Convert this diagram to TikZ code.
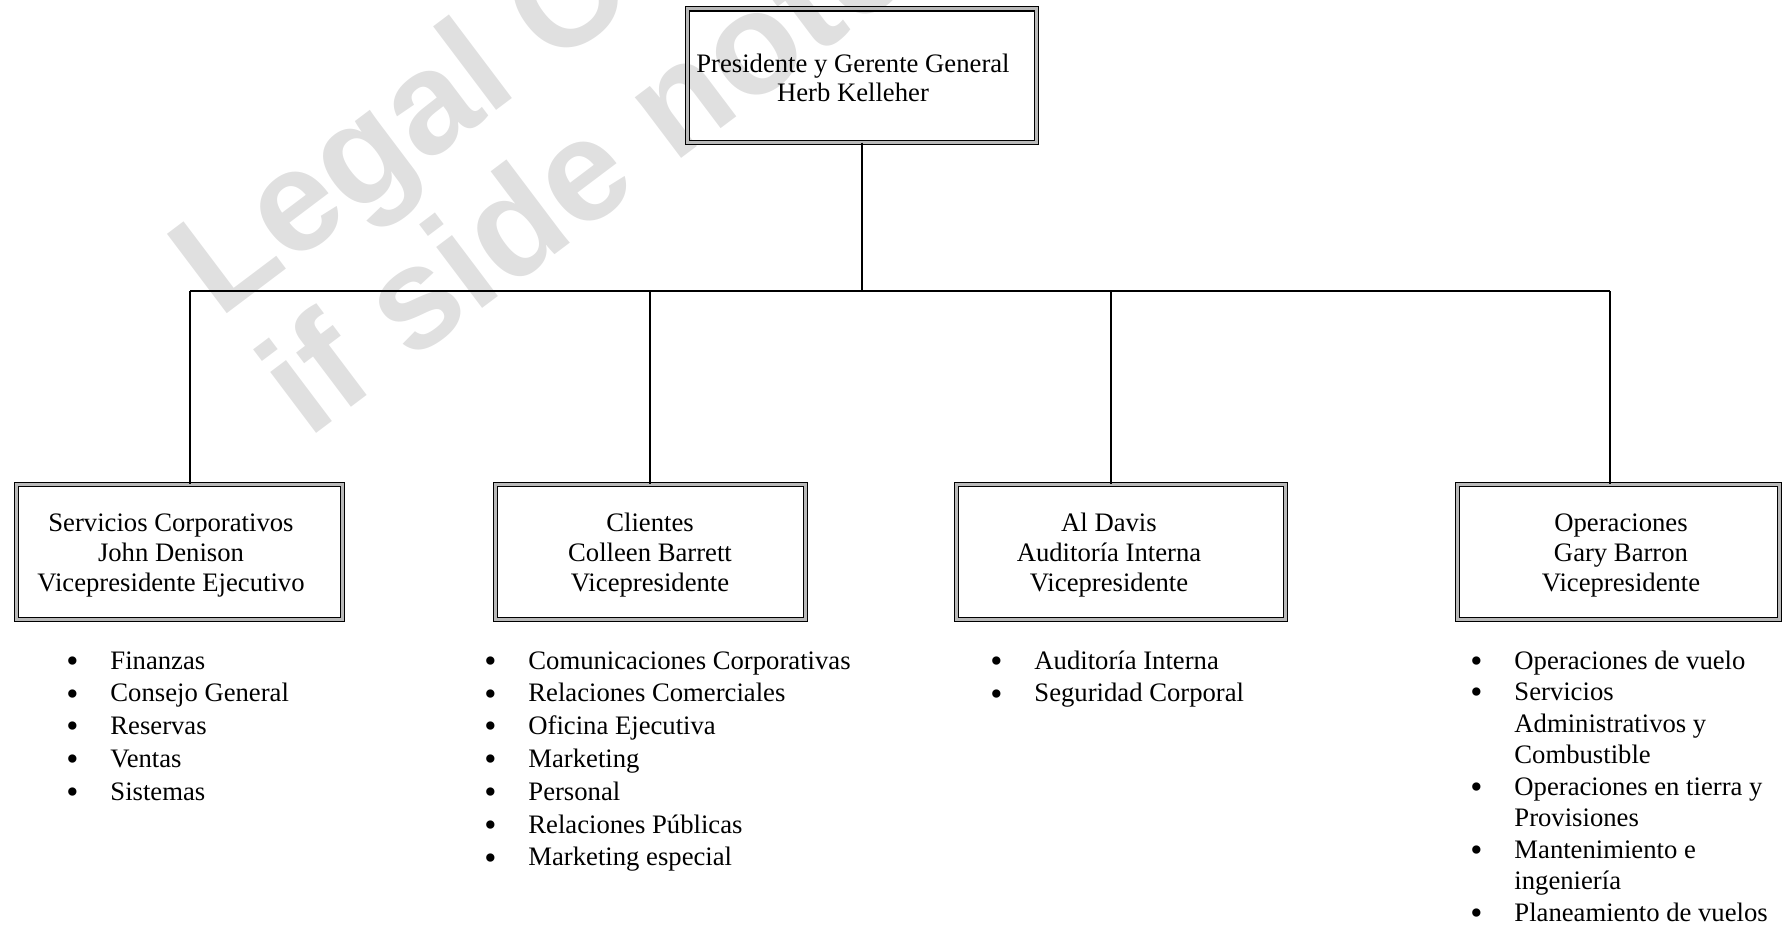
\documentclass[tikz,border=0pt]{standalone}
\usepackage{fontspec}
\setmainfont{Liberation Serif}
\newfontfamily\wmfont{Liberation Sans}
\definecolor{wmgray}{RGB}{224,224,224}
\newcommand{\blt}{\makebox[19.8pt][l]{\raisebox{-0.12em}{\scalebox{1.3}{\textbullet}}}}
\tikzset{
  unitbox/.style={draw=black, line width=0.5pt, double=gray!55, double distance=1.4pt,
    minimum height=61pt, inner sep=0pt},
  unittext/.style={align=center, inner sep=0pt, font=\fontsize{12}{13.5}\selectfont},
  item/.style={anchor=base west, inner sep=0pt, font=\fontsize{12}{14}\selectfont},
  link/.style={line width=0.8pt},
  wm/.style={text=wmgray, font=\wmfont\bfseries\fontsize{65}{65}\selectfont,
    rotate=37, anchor=base west, inner sep=0pt}
}
\begin{document}
\begin{tikzpicture}[x=0.45pt, y=-0.45pt]
\useasboundingbox (0,0) rectangle (1790,929);
% watermark
\node[wm] (W_1) at (219,320) {Legal C};
\node[wm] (W_2) at (308,440) {if side note};
% boxes
\node[unitbox, minimum width=157pt, minimum height=60pt] (P_0_0) at (862,75.5) {};
\node[unittext, font=\fontsize{12}{13}\selectfont] (T_0_0) at (853,78)
  {Presidente y Gerente General\\Herb Kelleher};
\node[unitbox, minimum width=146.5pt] (P_1_1) at (179.5,552) {};
\node[unittext] (T_1_1) at (171,555)
  {Servicios Corporativos\\John Denison\\Vicepresidente Ejecutivo};
\node[unitbox, minimum width=139.3pt] (P_1_2) at (650.5,552) {};
\node[unittext] (T_1_2) at (650,555)
  {Clientes\\Colleen Barrett\\Vicepresidente};
\node[unitbox, minimum width=148.3pt] (P_1_3) at (1121,552) {};
\node[unittext] (T_1_3) at (1109,555)
  {Al Davis\\Auditoría Interna\\Vicepresidente};
\node[unitbox, minimum width=144.7pt] (P_1_4) at (1618.5,552) {};
\node[unittext] (T_1_4) at (1621,555)
  {Operaciones\\Gary Barron\\Vicepresidente};
% connectors
\coordinate (D_1) at (190,291);
\coordinate (D_2) at (650,291);
\coordinate (D_3) at (1111,291);
\coordinate (D_4) at (1610,291);
\draw[link] (P_0_0.south) -- (P_0_0.south |- D_1);
\draw[link] (D_1) -- (D_4);
\draw[link] (D_1) -- (D_1 |- P_1_1.north);
\draw[link] (D_2) -- (D_2 |- P_1_2.north);
\draw[link] (D_3) -- (D_3 |- P_1_3.north);
\draw[link] (D_4) -- (D_4 |- P_1_4.north);
% lists
\node[item] (I_1_1) at (66,669) {\blt Finanzas};
\node[item] (I_1_2) at (66,701.8) {\blt Consejo General};
\node[item] (I_1_3) at (66,734.6) {\blt Reservas};
\node[item] (I_1_4) at (66,767.4) {\blt Ventas};
\node[item] (I_1_5) at (66,800.2) {\blt Sistemas};
\node[item] (I_2_1) at (484,669) {\blt Comunicaciones Corporativas};
\node[item] (I_2_2) at (484,701.8) {\blt Relaciones Comerciales};
\node[item] (I_2_3) at (484,734.6) {\blt Oficina Ejecutiva};
\node[item] (I_2_4) at (484,767.4) {\blt Marketing};
\node[item] (I_2_5) at (484,800.2) {\blt Personal};
\node[item] (I_2_6) at (484,833) {\blt Relaciones Públicas};
\node[item] (I_2_7) at (484,865.8) {\blt Marketing especial};
\node[item] (I_3_1) at (990,669) {\blt Auditoría Interna};
\node[item] (I_3_2) at (990,701.8) {\blt Seguridad Corporal};
\node[item] (I_4_1) at (1470,669) {\blt Operaciones de vuelo};
\node[item] (I_4_2) at (1470,700.5) {\blt Servicios};
\node[item] (I_4_3) at (1514,732) {Administrativos y};
\node[item] (I_4_4) at (1514,763.5) {Combustible};
\node[item] (I_4_5) at (1470,795) {\blt Operaciones en tierra y};
\node[item] (I_4_6) at (1514,826.5) {Provisiones};
\node[item] (I_4_7) at (1470,858) {\blt Mantenimiento e};
\node[item] (I_4_8) at (1514,889.5) {ingeniería};
\node[item] (I_4_9) at (1470,921) {\blt Planeamiento de vuelos};
\end{tikzpicture}
\end{document}
